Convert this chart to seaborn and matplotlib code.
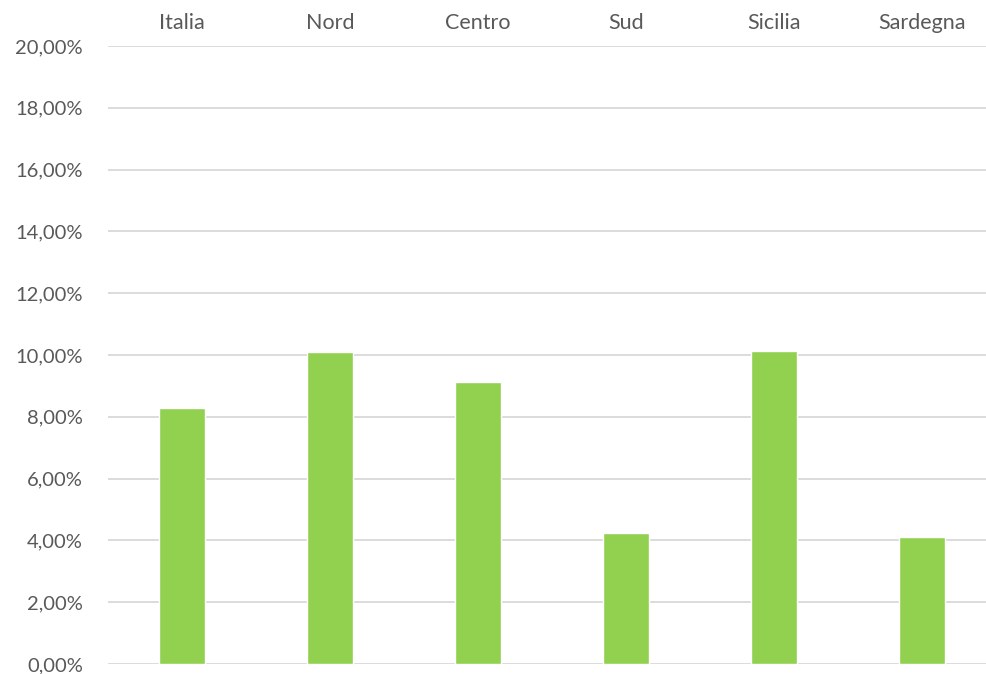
import matplotlib
matplotlib.use('agg')
import matplotlib.pyplot as plt
import seaborn as sns
import pandas as pd
from matplotlib.ticker import FuncFormatter, MultipleLocator

regioni = ['Italia', 'Nord', 'Centro', 'Sud', 'Sicilia', 'Sardegna']
valori = [8.27, 10.09, 9.11, 4.25, 10.14, 4.11]

df = pd.DataFrame({'regione': regioni, 'valore': valori})

sns.set_theme(style='white')
plt.rcParams['font.family'] = ['Lato', 'DejaVu Sans']

fig = plt.figure(figsize=(9.87, 6.74), dpi=100)
# plot area runs a little past the right edge, like the original
ax = fig.add_axes([0.1094, 0.0148, 0.8997, 0.917])

sns.barplot(data=df, x='regione', y='valore', color='#92D050', width=0.31,
            saturation=1, ax=ax, zorder=3)

ax.set_ylim(0, 20)
ax.set_xlim(-0.5, 5.5)
ax.yaxis.set_major_locator(MultipleLocator(2))
ax.yaxis.set_major_formatter(FuncFormatter(lambda v, p: f'{v:.2f}%'.replace('.', ',')))
ax.grid(axis='y', color='#D9D9D9', linewidth=1.3, zorder=0)
ax.set_axisbelow(True)
for s in ax.spines.values():
    s.set_visible(False)

ax.xaxis.tick_top()
ax.tick_params(axis='x', length=0, pad=9, labelsize=15.5, labelcolor='#595959')
ax.tick_params(axis='y', length=0, pad=18, labelsize=14.5, labelcolor='#595959')
ax.set_xlabel('')
ax.set_ylabel('')

fig.savefig('out.png', dpi=100)
